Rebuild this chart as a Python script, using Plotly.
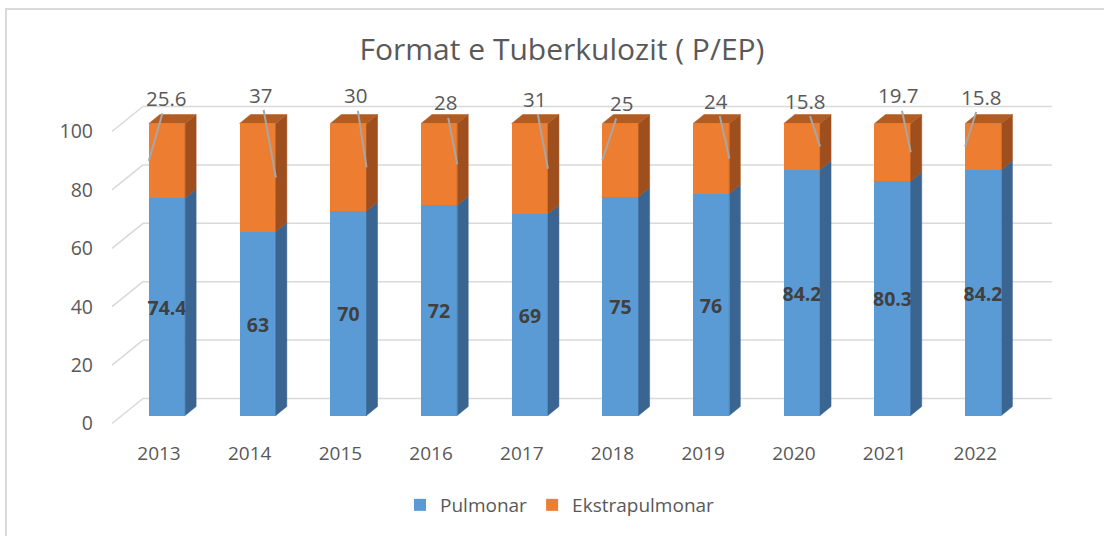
import plotly.graph_objects as go

# ---------------- data ----------------
years = ["2013", "2014", "2015", "2016", "2017", "2018", "2019", "2020", "2021", "2022"]
pulmonar = [74.4, 63, 70, 72, 69, 75, 76, 84.2, 80.3, 84.2]
ekstrapulmonar = [25.6, 37, 30, 28, 31, 25, 24, 15.8, 19.7, 15.8]
y_ticks = [0, 20, 40, 60, 80, 100]

# ---------------- style ----------------
W, H = 1104, 536
ML, MR, MT, MB = 100, 44, 70, 96
PX_PER_CAT = 90.7          # horizontal pixels per category
PX_PER_UNIT = 2.92         # vertical pixels per value unit
CAT0_PX = 167              # pixel x of first category centre
ZERO_PX = 415.5            # pixel y of value 0 (bar front)

BAR_W = 0.4
DEPTH_X = 11 / PX_PER_CAT   # bar depth (x) in category units
DEPTH_Y = 9 / PX_PER_UNIT   # bar depth (y) in value units
WALL_X = 21 / PX_PER_CAT    # back wall offset
WALL_Y = 17 / PX_PER_UNIT
FLOOR_X = -10 / PX_PER_CAT  # floor front offset
FLOOR_Y = -8 / PX_PER_UNIT
GRID_LEFT = (112 - CAT0_PX) / PX_PER_CAT
GRID_RIGHT = (1052 - CAT0_PX) / PX_PER_CAT

BLUE, BLUE_SIDE = "#5B9BD5", "#3A6590"
ORANGE, ORANGE_SIDE, ORANGE_TOP = "#ED7D31", "#9E4F1D", "#B25C22"
TXT = "#595959"
GRID = "#D9D9D9"
FONT = "Open Sans"

# leader-line label placement (side of bar, pixel offsets of label)
label_side = [-1, 1, 1, 1, 1, -1, 1, 1, 1, -1]
label_dx = [18, -15, -11, -12, -13, 19, -13, -15, -12, 16]
label_dy = [-63, -83, -72, -62, -70, -57, -58, -46, -57, -50]

plot_w = W - ML - MR
plot_h = H - MT - MB
x_range = [(ML - CAT0_PX) / PX_PER_CAT, (ML + plot_w - CAT0_PX) / PX_PER_CAT]
y_range = [(ZERO_PX - (MT + plot_h)) / PX_PER_UNIT, (ZERO_PX - MT) / PX_PER_UNIT]

idx = list(range(len(years)))
hw = BAR_W / 2

fig = go.Figure()

# front faces
fig.add_trace(go.Bar(
    x=idx, y=pulmonar, width=BAR_W, name="Pulmonar",
    marker=dict(color=BLUE, line=dict(width=0)),
    text=[f"{v:g}" for v in pulmonar], textposition="inside",
    insidetextanchor="middle", constraintext="none", textangle=0,
    textfont=dict(family=FONT, size=19.5, color="#404040", weight="bold"),
    hoverinfo="skip",
))
fig.add_trace(go.Bar(
    x=idx, y=ekstrapulmonar, width=BAR_W, name="Ekstrapulmonar",
    marker=dict(color=ORANGE, line=dict(width=0)),
    hoverinfo="skip",
))


def side_poly(xs_c, lows, highs):
    xs, ys = [], []
    for c, lo, hi in zip(xs_c, lows, highs):
        xr = c + hw
        xs += [xr, xr + DEPTH_X, xr + DEPTH_X, xr, xr, None]
        ys += [lo, lo + DEPTH_Y, hi + DEPTH_Y, hi, lo, None]
    return xs, ys


def top_poly(xs_c, tops):
    xs, ys = [], []
    for c, t in zip(xs_c, tops):
        xs += [c - hw, c + hw, c + hw + DEPTH_X, c - hw + DEPTH_X, c - hw, None]
        ys += [t, t, t + DEPTH_Y, t + DEPTH_Y, t, None]
    return xs, ys


totals = [p + e for p, e in zip(pulmonar, ekstrapulmonar)]
sx, sy = side_poly(idx, [0] * len(idx), pulmonar)
fig.add_trace(go.Scatter(x=sx, y=sy, fill="toself", fillcolor=BLUE_SIDE, mode="lines",
                         line=dict(width=0.5, color=BLUE_SIDE), showlegend=False, hoverinfo="skip"))
sx, sy = side_poly(idx, pulmonar, totals)
fig.add_trace(go.Scatter(x=sx, y=sy, fill="toself", fillcolor=ORANGE_SIDE, mode="lines",
                         line=dict(width=0.5, color=ORANGE_SIDE), showlegend=False, hoverinfo="skip"))
tx, ty = top_poly(idx, totals)
fig.add_trace(go.Scatter(x=tx, y=ty, fill="toself", fillcolor=ORANGE_TOP, mode="lines",
                         line=dict(width=0.5, color=ORANGE_TOP), showlegend=False, hoverinfo="skip"))

# gridlines (floor diagonal + back wall)
shapes = []
gx0 = GRID_LEFT
gx1 = GRID_LEFT + (WALL_X - FLOOR_X)
for t in y_ticks:
    shapes.append(dict(type="line", xref="x", yref="y", layer="below",
                       x0=gx0, y0=t + FLOOR_Y, x1=gx1, y1=t + WALL_Y,
                       line=dict(color=GRID, width=1.5)))
    shapes.append(dict(type="line", xref="x", yref="y", layer="below",
                       x0=gx1, y0=t + WALL_Y, x1=GRID_RIGHT, y1=t + WALL_Y,
                       line=dict(color=GRID, width=1.5)))

# chart border
shapes.append(dict(type="rect", xref="paper", yref="paper", layer="below",
                   x0=(6 - ML) / plot_w, x1=(W + 10 - ML) / plot_w,
                   y0=(MT + plot_h - (H + 10)) / plot_h, y1=(MT + plot_h - 9) / plot_h,
                   line=dict(color=GRID, width=2), fillcolor="rgba(0,0,0,0)"))

# orange labels with leader lines
annotations = []
for i, (p, e) in enumerate(zip(pulmonar, ekstrapulmonar)):
    annotations.append(dict(
        x=i + label_side[i] * hw, y=p + e / 2, xref="x", yref="y",
        text=f"{e:g}", showarrow=True, arrowhead=0, arrowwidth=2,
        arrowcolor="#A6A6A6", ax=label_dx[i], ay=label_dy[i],
        standoff=0, startstandoff=0,
        font=dict(family=FONT, size=20.5, color=TXT),
    ))

fig.update_layout(
    width=W, height=H,
    margin=dict(l=ML, r=MR, t=MT, b=MB),
    paper_bgcolor="white", plot_bgcolor="white",
    barmode="stack", bargap=0,
    title=dict(text="Format e Tuberkulozit ( P/EP)", x=562 / W, xref="container",
               xanchor="center", y=1 - 49 / H, yref="container", yanchor="middle",
               font=dict(family=FONT, size=30, color=TXT)),
    xaxis=dict(range=x_range, tickvals=idx, ticktext=years, showgrid=False,
               zeroline=False, showline=False, ticks="", ticklabelshift=-8,
               tickfont=dict(family=FONT, size=19, color=TXT), fixedrange=True),
    yaxis=dict(range=y_range, tickvals=y_ticks, showgrid=False, zeroline=False,
               showline=False, ticks="", ticklabelshift=8, ticklabelstandoff=6,
               tickfont=dict(family=FONT, size=19.5, color=TXT), fixedrange=True),
    legend=dict(orientation="h", x=(560 - ML) / plot_w, xanchor="center",
                y=(MT + plot_h - 505) / plot_h, yanchor="middle", traceorder="normal",
                font=dict(family=FONT, size=19, color=TXT), bgcolor="rgba(0,0,0,0)"),
    shapes=shapes, annotations=annotations,
    showlegend=True,
)

fig.write_html("out.html", config={"displayModeBar": False},
               post_script="document.body.style.margin='0px';")
